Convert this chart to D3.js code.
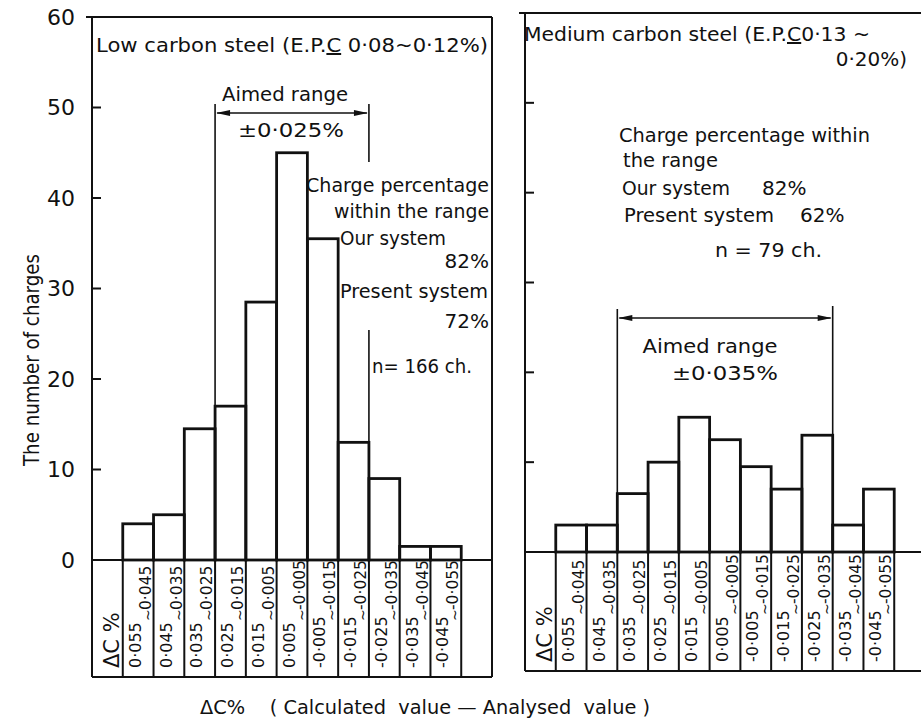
<!DOCTYPE html>
<html>
<head>
<meta charset="utf-8">
<script src="https://cdn.jsdelivr.net/npm/d3@7"></script>
<style>
  body { margin: 0; background: #fff; }
  text { font-family: "DejaVu Sans", sans-serif; fill: #111; white-space: pre; }
</style>
</head>
<body>
<div id="chart"></div>
<script>
// bins of delta C % (calculated - analysed), first / second bound
var binFrom = ["0·055", "0·045", "0·035", "0·025", "0·015", "0·005", "-0·005", "-0·015", "-0·025", "-0·035", "-0·045"];
var binTo   = ["0·045", "0·035", "0·025", "0·015", "0·005", "-0·005", "-0·015", "-0·025", "-0·035", "-0·045", "-0·055"];
var bins = binFrom.map((f, i) => f + "~" + binTo[i]);

// number of charges
var lowCounts = [4, 5, 14.5, 17, 28.5, 45, 35.5, 13, 9, 1.5, 1.5];
var medCounts = [3, 3, 6.5, 10, 15, 12.5, 9.5, 7, 13, 3, 7];

var yTicks = [0, 10, 20, 30, 40, 50, 60];

// aimed range as first / last bin index inside it
var lowAimed = [3, 7];
var medAimed = [2, 8];

var svgWidth = 921;
var svgHeight = 719;

var svg = d3.select("#chart")
  .append("svg")
  .attr("width", svgWidth)
  .attr("height", svgHeight);

var cols = ["dc"].concat(bins, ["pad"]);
var ink = "#111";

function drawPanel(p) {
  var g = svg.append("g");
  var x = d3.scaleBand().domain(cols).range([p.x0, p.x0 + 400]).padding(0);
  var y = d3.scaleLinear().domain([0, 60]).range([p.base, p.top]);
  var right = Math.min(p.x0 + 400, p.frameRight);

  // frame
  g.append("line").attr("x1", p.x0).attr("x2", p.x0).attr("y1", p.top).attr("y2", p.bottom)
    .attr("stroke", ink).attr("stroke-width", 2);
  g.append("line").attr("x1", p.x0 - 6).attr("x2", right).attr("y1", p.top).attr("y2", p.top)
    .attr("stroke", ink).attr("stroke-width", 2);
  if (p.frameRight < 921) {
    g.append("line").attr("x1", right).attr("x2", right).attr("y1", p.top).attr("y2", p.bottom)
      .attr("stroke", ink).attr("stroke-width", 2);
  }

  // inward ticks
  g.selectAll(".tick").data(yTicks.filter(d => d > 0 && d < 60)).enter()
    .append("line")
    .attr("x1", p.x0).attr("x2", p.x0 + 9)
    .attr("y1", d => y(d)).attr("y2", d => y(d))
    .attr("stroke", ink).attr("stroke-width", 2);

  if (p.labels) {
    g.selectAll(".tl").data(yTicks).enter()
      .append("text")
      .attr("x", p.x0 - 17)
      .attr("y", d => y(d))
      .attr("dy", "0.36em")
      .attr("text-anchor", "end")
      .attr("font-size", 22)
      .text(d => d);
  }

  // baseline and table
  g.append("line").attr("x1", p.x0).attr("x2", right).attr("y1", p.base).attr("y2", p.base)
    .attr("stroke", ink).attr("stroke-width", 2);
  g.append("line").attr("x1", p.x0).attr("x2", right).attr("y1", p.bottom).attr("y2", p.bottom)
    .attr("stroke", ink).attr("stroke-width", 2);
  g.selectAll(".col").data(cols.slice(1)).enter()
    .append("line")
    .attr("x1", d => x(d)).attr("x2", d => x(d))
    .attr("y1", p.base).attr("y2", p.bottom)
    .attr("stroke", ink).attr("stroke-width", 2);

  // bars
  g.selectAll(".bar").data(p.counts).enter()
    .append("rect")
    .attr("x", (d, i) => x(bins[i]))
    .attr("y", d => y(d))
    .attr("width", x.bandwidth())
    .attr("height", d => p.base - y(d))
    .attr("fill", "none")
    .attr("stroke", ink)
    .attr("stroke-width", 2.8);

  // table labels
  var lb = p.bottom - 9;
  g.append("text")
    .attr("transform", `translate(${x("dc") + 27}, ${lb}) rotate(-90)`)
    .attr("font-size", 21)
    .text("ΔC %");
  bins.forEach(function(b, i) {
    var t = g.append("g").attr("transform", `translate(${x(b)}, ${lb}) rotate(-90)`);
    t.append("text").attr("x", 0).attr("y", 18).attr("font-size", 16).text(binFrom[i]);
    t.append("text").attr("x", 47).attr("y", 30).attr("font-size", 14).text("~");
    t.append("text").attr("x", 58).attr("y", 28).attr("font-size", 15.5).text(binTo[i]);
  });

  // aimed range arrow
  var ax1 = x(bins[p.aimed[0]]);
  var ax2 = x(bins[p.aimed[1]]) + x.bandwidth();
  var ay = p.arrowY;
  g.append("line").attr("x1", ax1).attr("x2", ax1).attr("y1", ay - 9).attr("y2", y(p.counts[p.aimed[0]]))
    .attr("stroke", ink).attr("stroke-width", 1.6);
  p.rightSegs.forEach(function(s) {
    g.append("line").attr("x1", ax2).attr("x2", ax2)
      .attr("y1", s[0]).attr("y2", s[1] == null ? y(p.counts[p.aimed[1]]) : s[1])
      .attr("stroke", ink).attr("stroke-width", 1.6);
  });
  g.append("line").attr("x1", ax1 + 2).attr("x2", ax2 - 2).attr("y1", ay).attr("y2", ay)
    .attr("stroke", ink).attr("stroke-width", 1.6);
  [[ax1 + 1, 1], [ax2 - 1, -1]].forEach(function(a) {
    g.append("path")
      .attr("d", `M${a[0]},${ay} L${a[0] + a[1] * 14},${ay - 3} L${a[0] + a[1] * 14},${ay + 3} Z`)
      .attr("fill", ink);
  });
  return g;
}

var left = drawPanel({
  x0: 92, top: 17, base: 560, bottom: 677, frameRight: 493,
  counts: lowCounts, labels: true, aimed: lowAimed,
  arrowY: 113, rightSegs: [[104, 162], [330, null]]
});

var rightP = drawPanel({
  x0: 525, top: 13, base: 552, bottom: 671, frameRight: 921,
  counts: medCounts, labels: false, aimed: medAimed,
  arrowY: 318, rightSegs: [[306, null]]
});

// annotations
function note(g, x, y, s, size, anchor, len) {
  var t = g.append("text").attr("x", x).attr("y", y)
    .attr("font-size", size || 18)
    .attr("text-anchor", anchor || "start")
    .text(s);
  if (len) t.attr("textLength", len).attr("lengthAdjust", "spacingAndGlyphs");
  return t;
}

var t1 = left.append("text").attr("x", 96).attr("y", 52).attr("font-size", 20)
  .attr("textLength", 392).attr("lengthAdjust", "spacingAndGlyphs");
t1.append("tspan").text("Low carbon steel (E.P.");
t1.append("tspan").style("text-decoration", "underline").text("C");
t1.append("tspan").text(" 0·08~0·12%)");

note(left, 285, 101, "Aimed range", 20, "middle", 126);
note(left, 291, 137, "±0·025%", 20, "middle", 106);
note(left, 489, 192, "Charge percentage", 19.5, "end", 183);
note(left, 489, 218, "within the range", 19.5, "end", 155);
note(left, 340, 245, "Our system", 19.5, "start", 106);
note(left, 489, 268, "82%", 20, "end");
note(left, 340, 298, "Present system", 19.5, "start", 148);
note(left, 489, 328, "72%", 20, "end");
note(left, 372, 373, "n= 166 ch.", 19, "start", 100);

var t2 = rightP.append("text").attr("x", 524).attr("y", 41).attr("font-size", 20)
  .attr("textLength", 346).attr("lengthAdjust", "spacingAndGlyphs");
t2.append("tspan").text("Medium carbon steel (E.P.");
t2.append("tspan").style("text-decoration", "underline").text("C");
t2.append("tspan").text("0·13 ~");
note(rightP, 907, 66, "0·20%)", 20, "end");

note(rightP, 619, 142, "Charge percentage within", 19.5, "start", 251);
note(rightP, 623, 167, "the range", 19.5, "start", 95);
note(rightP, 622, 195, "Our system", 19.5, "start", 108);
note(rightP, 762, 195, "82%", 20);
note(rightP, 624, 222, "Present system", 19.5, "start", 150);
note(rightP, 800, 222, "62%", 20);
note(rightP, 715, 257, "n = 79 ch.", 19.5, "start", 107);
note(rightP, 710, 353, "Aimed range", 20, "middle", 135);
note(rightP, 725, 380, "±0·035%", 20, "middle", 106);

// axis titles
svg.append("text")
  .attr("transform", "translate(39, 360) rotate(-90)")
  .attr("text-anchor", "middle")
  .attr("font-size", 22)
  .attr("textLength", 212)
  .attr("lengthAdjust", "spacingAndGlyphs")
  .text("The number of charges");

svg.append("text")
  .attr("x", 425).attr("y", 714)
  .attr("text-anchor", "middle")
  .attr("font-size", 19)
  .attr("textLength", 450)
  .attr("lengthAdjust", "spacingAndGlyphs")
  .text("ΔC%    ( Calculated  value — Analysed  value )");
</script>
</body>
</html>
